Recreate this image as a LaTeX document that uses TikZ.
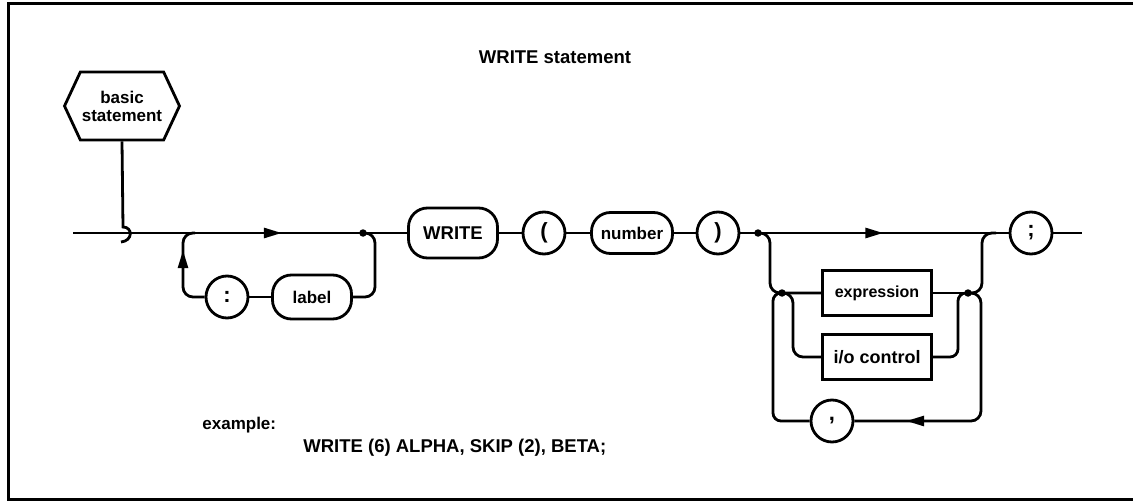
\documentclass[tikz,border=0pt]{standalone}
\usepackage{fontspec}
\setmainfont{Liberation Sans}
\usetikzlibrary{shapes.symbols,arrows.meta,decorations.markings}

\tikzset{
  txt/.style={font=\fontsize{17}{18}\selectfont\bfseries, inner sep=0pt},
  big/.style={font=\fontsize{18.5}{20}\selectfont\bfseries},
  term/.style={txt, draw, circle, minimum size=42pt, font=\fontsize{22}{22}\selectfont\bfseries},
  nterm/.style={txt, draw, rectangle, rounded corners=19pt, minimum height=44pt},
  ebox/.style={txt, draw, rectangle, minimum width=109pt, minimum height=45pt},
  hexa/.style={txt, draw, shape=signal, signal to=west and east, signal pointer angle=130,
    minimum width=115pt, minimum height=68pt, align=center},
  dot/.style={circle, fill=black, inner sep=0pt, minimum size=7.5pt},
  midarrow/.style={postaction={decorate}, decoration={markings,
    mark=at position #1 with {\arrow{Triangle[length=18pt,width=10pt]}}}}
}

\begin{document}
\begin{tikzpicture}[x=1pt, y=-1pt, line width=2.8pt]
\useasboundingbox (0,0) rectangle (1133,503);

% Frame
\draw[line width=3pt] (1133,4) -- (8,4) -- (8,499) -- (1133,499);

% Nodes
\node[txt, big] (title) at (555,57) {WRITE statement};
\node[hexa] (bs) at (122,106) {basic\\statement};

\coordinate (in) at (73,233);
\node[dot] (dA) at (363,233) {};
\node[term] (col) at (227,297) {:};
\node[nterm, minimum width=79pt] (lbl) at (312,297) {label};

\node[nterm, big, minimum width=89pt, minimum height=50pt] (wr) at (453,233) {WRITE};
\node[term] (lp) at (544,233) {(};
\node[nterm, minimum width=81pt, minimum height=41pt] (num) at (632,233) {number};
\node[term] (rp) at (718,233) {)};
\node[dot] (dB) at (758,233) {};
\node[term] (semi) at (1031,233) {;};
\coordinate (out) at (1082,233);

\node[ebox, font=\fontsize{16}{18}\selectfont\bfseries] (expr) at (877,293) {expression};
\node[ebox, font=\fontsize{18}{18}\selectfont\bfseries] (io) at (877,357) {i/o control};
\node[dot] (dC) at (782,293) {};
\node[dot] (dD) at (968,293) {};
\node[term] (comma) at (832,421) {,};

\node[txt, anchor=west] (ex) at (201,425) {example:};
\node[txt, big, anchor=west] (exline) at (302,448) {WRITE (6) ALPHA, SKIP (2), BETA;};

% Entry
\draw (bs.south) -- (123,227) .. controls (133,227) and (133,241) .. (121,242);
\draw[midarrow=0.72] (in) -- (dA.center);
\draw (dA.center) -- (wr.west);

% Label loop
\coordinate (lr) at (375,297);
\coordinate (ll) at (183,297);
\coordinate (lt) at (183,233);
\draw[rounded corners=10pt] (dA.center) -| (lr) -- (lbl.east);
\draw (lbl.west) -- (col.east);
\draw[rounded corners=10pt, midarrow=0.72] (col.west) -- (ll) -- (lt) -- ++(12,0);

% Main line
\draw (wr.east) -- (lp.west);
\draw (lp.east) -- (num.west);
\draw (num.east) -- (rp.west);
\draw (rp.east) -- (dB.center);
\draw[midarrow=0.5] (dB.center) -- (semi.west);
\draw (semi.east) -- (out);

% Output list
\draw[rounded corners=10pt] (dB.center) -| (770,293) -- (expr.west);
\draw[rounded corners=10pt] (dC.center) -| (793,357) -- (io.west);
\draw[rounded corners=8pt] (comma.west) -| (773,293) -- (dC.center);
\draw (expr.east) -- (dD.center);
\draw[rounded corners=8pt] (io.east) -- (958,357) -- (958,293) -- (dD.center);
\draw[rounded corners=10pt] (dD.center) -| (982,233) -- ++(14,0);
\draw[rounded corners=10pt, midarrow=0.8] (dD.center) -| (981,421) -- (comma.east);

\end{tikzpicture}
\end{document}
